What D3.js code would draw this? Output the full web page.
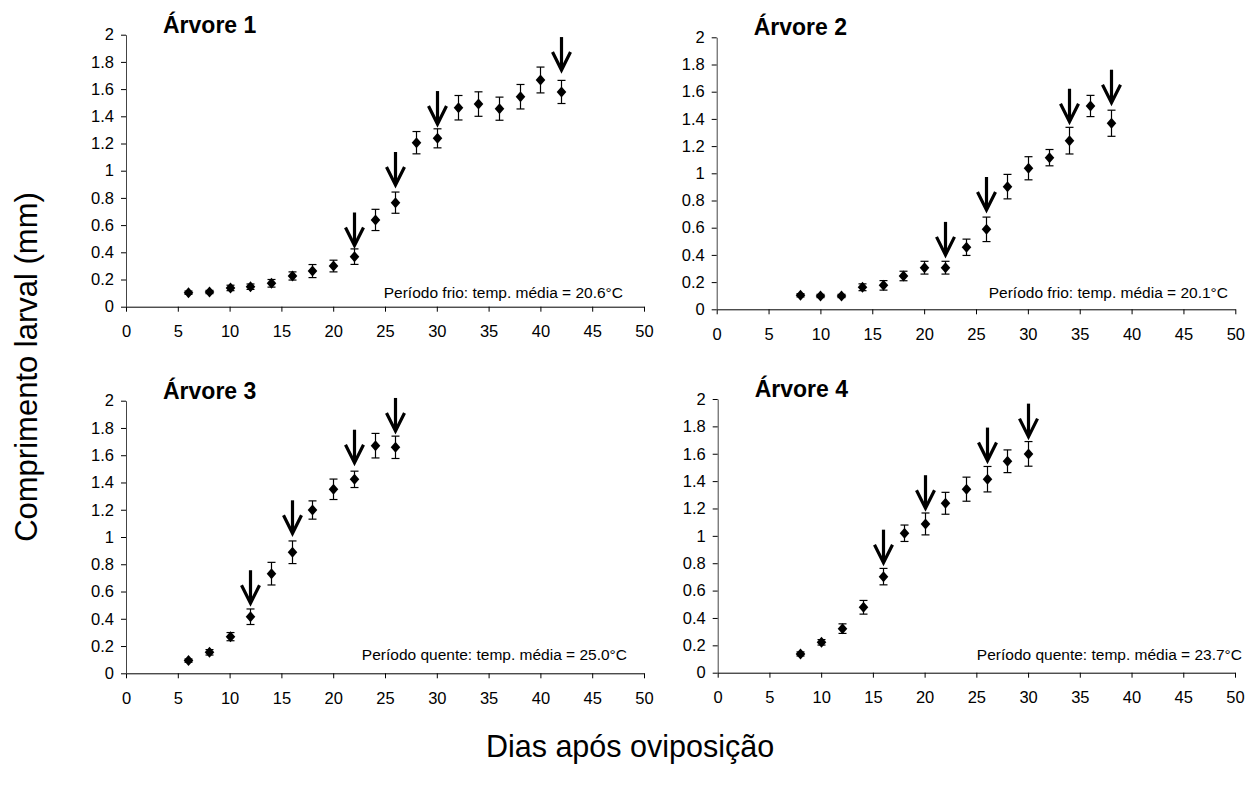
<!DOCTYPE html>
<html><head><meta charset="utf-8">
<script src="https://cdn.jsdelivr.net/npm/d3@7"></script>
<style>
html,body{margin:0;padding:0;background:#fff;}
svg{display:block;font-family:"Liberation Sans",Arial,Helvetica,sans-serif;}
</style></head><body>
<svg id="chart" width="1259" height="791"></svg>
<script>
// ---- Data ----
const panelTitles = ["Árvore 1", "Árvore 2", "Árvore 3", "Árvore 4"];
const panelNotes = [
  "Período frio: temp. média = 20.6°C",
  "Período frio: temp. média = 20.1°C",
  "Período quente: temp. média = 25.0°C",
  "Período quente: temp. média = 23.7°C"
];
const xTicks = [0,5,10,15,20,25,30,35,40,45,50];
const yTicks = [0,0.2,0.4,0.6,0.8,1,1.2,1.4,1.6,1.8,2];

const days1 = [6,8,10,12,14,16,18,20,22,24,26,28,30,32,34,36,38,40,42];
const len1  = [0.103,0.108,0.138,0.147,0.172,0.226,0.262,0.299,0.368,0.638,0.765,1.206,1.238,1.463,1.490,1.456,1.544,1.667,1.579];
const err1  = [0.012,0.012,0.020,0.020,0.028,0.030,0.048,0.043,0.057,0.078,0.078,0.082,0.070,0.090,0.090,0.085,0.090,0.095,0.085];
const arrowDays1 = [22,26,30,42];
const arrowTip1  = [0.45,0.895,1.343,1.74];

const days2 = [8,10,12,14,16,18,20,22,24,26,28,30,32,34,36,38];
const len2  = [0.103,0.098,0.098,0.162,0.176,0.245,0.306,0.306,0.456,0.588,0.902,1.037,1.115,1.240,1.495,1.368];
const err2  = [0.012,0.012,0.012,0.025,0.035,0.035,0.047,0.047,0.060,0.090,0.090,0.085,0.060,0.098,0.078,0.096];
const arrowDays2 = [22,26,34,38];
const arrowTip2  = [0.40,0.73,1.379,1.519];

const days3 = [6,8,10,12,14,16,18,20,22,24,26];
const len3  = [0.093,0.154,0.269,0.415,0.731,0.888,1.198,1.350,1.423,1.670,1.658];
const err3  = [0.012,0.020,0.030,0.057,0.083,0.083,0.067,0.075,0.060,0.090,0.082];
const arrowDays3 = [12,16,22,26];
const arrowTip3  = [0.514,1.027,1.545,1.778];

const days4 = [8,10,12,14,16,18,20,22,24,26,28,30];
const len4  = [0.137,0.222,0.322,0.478,0.702,1.019,1.087,1.238,1.341,1.414,1.545,1.599];
const err4  = [0.015,0.020,0.035,0.050,0.060,0.060,0.080,0.080,0.088,0.093,0.083,0.090];
const arrowDays4 = [16,20,26,30];
const arrowTip4  = [0.804,1.202,1.55,1.725];

const yTitle = "Comprimento larval (mm)";
const xTitle = "Dias após oviposição";

// ---- Layout ----
const layout = [
  {x0:126,   x1:644,    y0:306.7, y1:34.7,  noteX:623,  noteY:297.5},
  {x0:716.7, x1:1235.3, y0:309.3, y1:37.3,  noteX:1228, noteY:297.5},
  {x0:126,   x1:644,    y0:673.3, y1:400.7, noteX:627,  noteY:659.5},
  {x0:717.7, x1:1235,   y0:672.7, y1:399,   noteX:1242, noteY:659.5}
];
const series = [
  {days:days1,len:len1,err:err1,ad:arrowDays1,at:arrowTip1},
  {days:days2,len:len2,err:err2,ad:arrowDays2,at:arrowTip2},
  {days:days3,len:len3,err:err3,ad:arrowDays3,at:arrowTip3},
  {days:days4,len:len4,err:err4,ad:arrowDays4,at:arrowTip4}
];

const svg = d3.select("#chart");

series.forEach((s, i) => {
  const L = layout[i];
  const x = d3.scaleLinear().domain([0,50]).range([L.x0, L.x1]);
  const y = d3.scaleLinear().domain([0,2]).range([L.y0, L.y1]);
  const g = svg.append("g");

  // x axis
  const xa = g.append("g").attr("transform", `translate(0,${L.y0})`)
    .call(d3.axisBottom(x).tickValues(xTicks).tickSize(5).tickPadding(14).tickSizeOuter(0));
  xa.select(".domain").attr("stroke","#000");
  xa.selectAll(".tick line").attr("stroke","#000");
  xa.selectAll("text").attr("font-size",16.5).attr("fill","#000")
    .attr("font-family","'Liberation Sans',Arial,sans-serif");

  // y axis
  const ya = g.append("g").attr("transform", `translate(${L.x0},0)`)
    .call(d3.axisLeft(y).tickValues(yTicks).tickSize(5).tickPadding(7).tickSizeOuter(0)
      .tickFormat(d => String(+d.toFixed(1))));
  ya.select(".domain").attr("stroke","#444");
  ya.selectAll(".tick line").attr("stroke","#000");
  ya.selectAll("text").attr("font-size",16.5).attr("fill","#000")
    .attr("font-family","'Liberation Sans',Arial,sans-serif");

  // title
  g.append("text").attr("x", L.x0 + 37).attr("y", L.y1 - 2)
    .attr("font-size", 23).attr("font-weight","bold").text(panelTitles[i]);

  // note
  g.append("text").attr("x", L.noteX).attr("y", L.noteY).attr("text-anchor","end")
    .attr("font-size", 15.5).text(panelNotes[i]);

  const pts = s.days.map((d,k) => ({d, v:s.len[k], e:s.err[k]}));

  // error bars
  const eb = g.append("g").attr("stroke","#000").attr("stroke-width",1.2).attr("fill","none");
  pts.forEach(p => {
    const cx = Math.round(x(p.d)) + 0.5;
    eb.append("line").attr("x1",cx).attr("x2",cx).attr("y1",y(p.v+p.e)).attr("y2",y(p.v-p.e));
    eb.append("line").attr("x1",cx-4).attr("x2",cx+4).attr("y1",y(p.v+p.e)).attr("y2",y(p.v+p.e));
    eb.append("line").attr("x1",cx-4).attr("x2",cx+4).attr("y1",y(p.v-p.e)).attr("y2",y(p.v-p.e));
  });

  // diamonds
  g.append("g").selectAll("path").data(pts).join("path")
    .attr("transform", p => `translate(${Math.round(x(p.d))+0.5},${y(p.v)})`)
    .attr("d", "M0,-5.5L4.8,0L0,5.5L-4.8,0Z")
    .attr("fill","#000");

  // arrows
  const ag = g.append("g").attr("stroke","#000").attr("stroke-width",3.2).attr("fill","none")
    .attr("stroke-linecap","butt");
  s.ad.forEach((d,k) => {
    const ax = Math.round(x(d)) + 0.5;
    const tip = y(s.at[k]);
    ag.append("line").attr("x1",ax).attr("x2",ax).attr("y1",tip-33).attr("y2",tip-2);
    ag.append("path").attr("d", `M${ax-9},${tip-18}L${ax},${tip}L${ax+9},${tip-18}`)
      .attr("stroke-linejoin","miter");
  });
});

// axis titles
svg.append("text").attr("transform","translate(37,367) rotate(-90)")
  .attr("text-anchor","middle").attr("font-size",31).text(yTitle);
svg.append("text").attr("x",630).attr("y",757)
  .attr("text-anchor","middle").attr("font-size",30.5).text(xTitle);
</script>
</body></html>
